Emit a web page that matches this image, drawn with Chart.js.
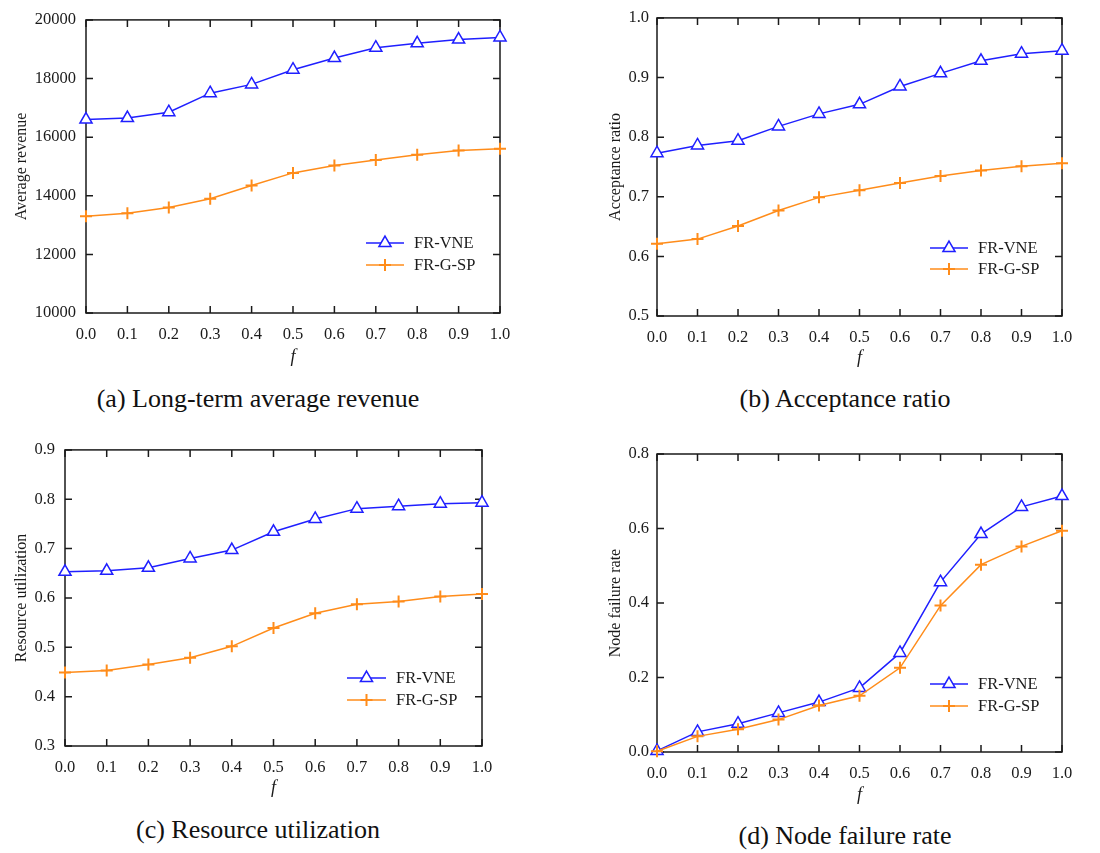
<!DOCTYPE html>
<html><head><meta charset="utf-8">
<script src="https://cdn.jsdelivr.net/npm/chart.js@4.4.1/dist/chart.umd.min.js"></script>
<style>
html,body{margin:0;padding:0;background:#fff;}
body{width:1100px;height:853px;position:relative;overflow:hidden;font-family:"Liberation Serif","Times New Roman",serif;}
.panel{position:absolute;}
.cap{position:absolute;font-size:26px;line-height:30px;color:#111;white-space:nowrap;transform:translateX(-50%);}
</style></head><body>
<div class="panel" style="left:0;top:0;width:540px;height:375px"><canvas id="ca"></canvas></div>
<div class="panel" style="left:560px;top:0;width:540px;height:375px"><canvas id="cb"></canvas></div>
<div class="panel" style="left:0;top:430px;width:540px;height:380px"><canvas id="cc"></canvas></div>
<div class="panel" style="left:560px;top:430px;width:540px;height:380px"><canvas id="cd"></canvas></div>
<div class="cap" style="left:258px;top:384px">(a) Long-term average revenue</div>
<div class="cap" style="left:845px;top:384px">(b) Acceptance ratio</div>
<div class="cap" style="left:258px;top:815px">(c) Resource utilization</div>
<div class="cap" style="left:845px;top:821px">(d) Node failure rate</div>
<script>
// ---- data ----
const fLabels = ['0.0','0.1','0.2','0.3','0.4','0.5','0.6','0.7','0.8','0.9','1.0'];
const seriesNames = ['FR-VNE','FR-G-SP'];

const revenueVNE = [16600,16650,16850,17500,17800,18300,18700,19050,19200,19330,19400];
const revenueGSP = [13300,13400,13600,13900,14350,14780,15030,15220,15400,15540,15600];
const revenueTicks = [10000,12000,14000,16000,18000,20000];

const acceptVNE = [0.773,0.786,0.794,0.818,0.839,0.855,0.885,0.907,0.928,0.940,0.945];
const acceptGSP = [0.621,0.629,0.651,0.677,0.699,0.711,0.723,0.735,0.744,0.751,0.756];
const acceptTicks = [0.5,0.6,0.7,0.8,0.9,1.0];

const utilVNE = [0.653,0.655,0.661,0.680,0.697,0.734,0.760,0.781,0.786,0.791,0.793];
const utilGSP = [0.449,0.453,0.465,0.479,0.502,0.539,0.569,0.587,0.593,0.603,0.608];
const utilTicks = [0.3,0.4,0.5,0.6,0.7,0.8,0.9];

const failVNE = [0.003,0.054,0.076,0.105,0.134,0.172,0.266,0.456,0.585,0.658,0.687];
const failGSP = [0.002,0.042,0.061,0.087,0.125,0.151,0.226,0.393,0.503,0.552,0.594];
const failTicks = [0.0,0.2,0.4,0.6,0.8];

// ---- styling ----
const BLUE = '#1f1fff', ORANGE = '#ff8c1a', INK = '#1a1a1a';
const FONT = '"Liberation Serif","Times New Roman",serif';

const frameTicks = {
  id: 'frameTicks',
  beforeDatasetsDraw(chart) {
    const {ctx, chartArea: a, scales: {x, y}} = chart;
    ctx.save();
    ctx.strokeStyle = INK; ctx.lineWidth = 1.5;
    ctx.strokeRect(a.left, a.top, a.right - a.left, a.bottom - a.top);
    const L = 7;
    ctx.beginPath();
    x.ticks.forEach((t, i) => {
      const px = x.getPixelForTick(i);
      ctx.moveTo(px, a.bottom); ctx.lineTo(px, a.bottom - L);
      ctx.moveTo(px, a.top); ctx.lineTo(px, a.top + L);
    });
    y.ticks.forEach(t => {
      const py = y.getPixelForValue(t.value);
      ctx.moveTo(a.left, py); ctx.lineTo(a.left + L, py);
      ctx.moveTo(a.right, py); ctx.lineTo(a.right - L, py);
    });
    ctx.stroke();
    ctx.restore();
  }
};

const innerLegend = {
  id: 'innerLegend',
  afterDatasetsDraw(chart, args, opts) {
    const ctx = chart.ctx;
    chart.data.datasets.forEach((ds, i) => {
      const y = opts.y + i * opts.dy;
      ctx.save();
      ctx.strokeStyle = ds.borderColor; ctx.lineWidth = ds.borderWidth;
      ctx.beginPath(); ctx.moveTo(opts.x, y); ctx.lineTo(opts.x + opts.len, y); ctx.stroke();
      ctx.fillStyle = ds.pointBackgroundColor;
      ctx.strokeStyle = ds.pointBorderColor;
      ctx.lineWidth = ds.pointBorderWidth;
      Chart.helpers.drawPoint(ctx, {pointStyle: ds.pointStyle, radius: ds.pointRadius, borderWidth: ds.pointBorderWidth, rotation: 0}, opts.x + opts.len / 2, y);
      ctx.fillStyle = INK;
      ctx.font = '16.5px ' + FONT;
      ctx.textBaseline = 'middle';
      ctx.textAlign = 'left';
      ctx.fillText(ds.label, opts.x + opts.len + 10, y + 1);
      ctx.restore();
    });
  }
};

function makeChart(id, vne, gsp, yTicks, decimals, yTitle, geo) {
  new Chart(document.getElementById(id), {
    type: 'line',
    data: {
      labels: fLabels,
      datasets: [
        {label: seriesNames[0], data: vne, borderColor: BLUE, borderWidth: 1.5,
         pointStyle: 'triangle', pointRadius: 7, pointBackgroundColor: '#fff',
         pointBorderColor: BLUE, pointBorderWidth: 1.5, tension: 0, clip: false, order: 1},
        {label: seriesNames[1], data: gsp, borderColor: ORANGE, borderWidth: 1.5,
         pointStyle: 'cross', pointRadius: 6, pointBackgroundColor: ORANGE,
         pointBorderColor: ORANGE, pointBorderWidth: 2, tension: 0, clip: false, order: 0}
      ]
    },
    options: {
      responsive: true, maintainAspectRatio: false, animation: false,
      events: [],
      layout: {padding: {left: 0, top: geo.top, right: geo.right, bottom: 0}},
      plugins: {
        legend: {display: false}, tooltip: {enabled: false},
        innerLegend: geo.legend
      },
      scales: {
        x: {
          type: 'category', offset: false,
          grid: {display: false, drawTicks: false}, border: {display: false},
          ticks: {font: {family: FONT, size: 16.5}, color: INK, padding: geo.xpad, maxRotation: 0, autoSkip: false},
          title: {display: true, text: 'f', font: {family: FONT, size: 18, style: 'italic'}, color: INK, padding: {top: 0, bottom: geo.xtitle}},
          afterFit: s => { s.height = geo.xh; }
        },
        y: {
          type: 'linear', min: yTicks[0], max: yTicks[yTicks.length - 1],
          grid: {display: false, drawTicks: false}, border: {display: false},
          afterBuildTicks: s => { s.ticks = yTicks.map(v => ({value: v})); },
          ticks: {font: {family: FONT, size: 16.5}, color: INK, padding: geo.ypad,
                  callback: v => Number(v).toFixed(decimals)},
          title: {display: true, text: yTitle, font: {family: FONT, size: 16}, color: INK, padding: {top: geo.ytitle, bottom: 0}},
          afterFit: s => { s.width = geo.yw; }
        }
      }
    },
    plugins: [frameTicks, innerLegend]
  });
}

makeChart('ca', revenueVNE, revenueGSP, revenueTicks, 0, 'Average revenue',
  {top: 16, right: 40, yw: 86, xh: 62, xpad: 12, ypad: 10, xtitle: 7, ytitle: 12,
   legend: {x: 366, y: 243, dy: 22, len: 38}});
makeChart('cb', acceptVNE, acceptGSP, acceptTicks, 1, 'Acceptance ratio',
  {top: 17, right: 38, yw: 97, xh: 59, xpad: 12, ypad: 8, xtitle: 6, ytitle: 46,
   legend: {x: 370, y: 248, dy: 21, len: 38}});
makeChart('cc', utilVNE, utilGSP, utilTicks, 1, 'Resource utilization',
  {top: 19, right: 58, yw: 65, xh: 64, xpad: 12, ypad: 10, xtitle: 11, ytitle: 12,
   legend: {x: 347, y: 248, dy: 22, len: 39}});
makeChart('cd', failVNE, failGSP, failTicks, 1, 'Node failure rate',
  {top: 24, right: 38, yw: 97, xh: 58, xpad: 12, ypad: 8, xtitle: 4, ytitle: 46,
   legend: {x: 370, y: 254, dy: 22, len: 38}});
</script>
</body></html>
